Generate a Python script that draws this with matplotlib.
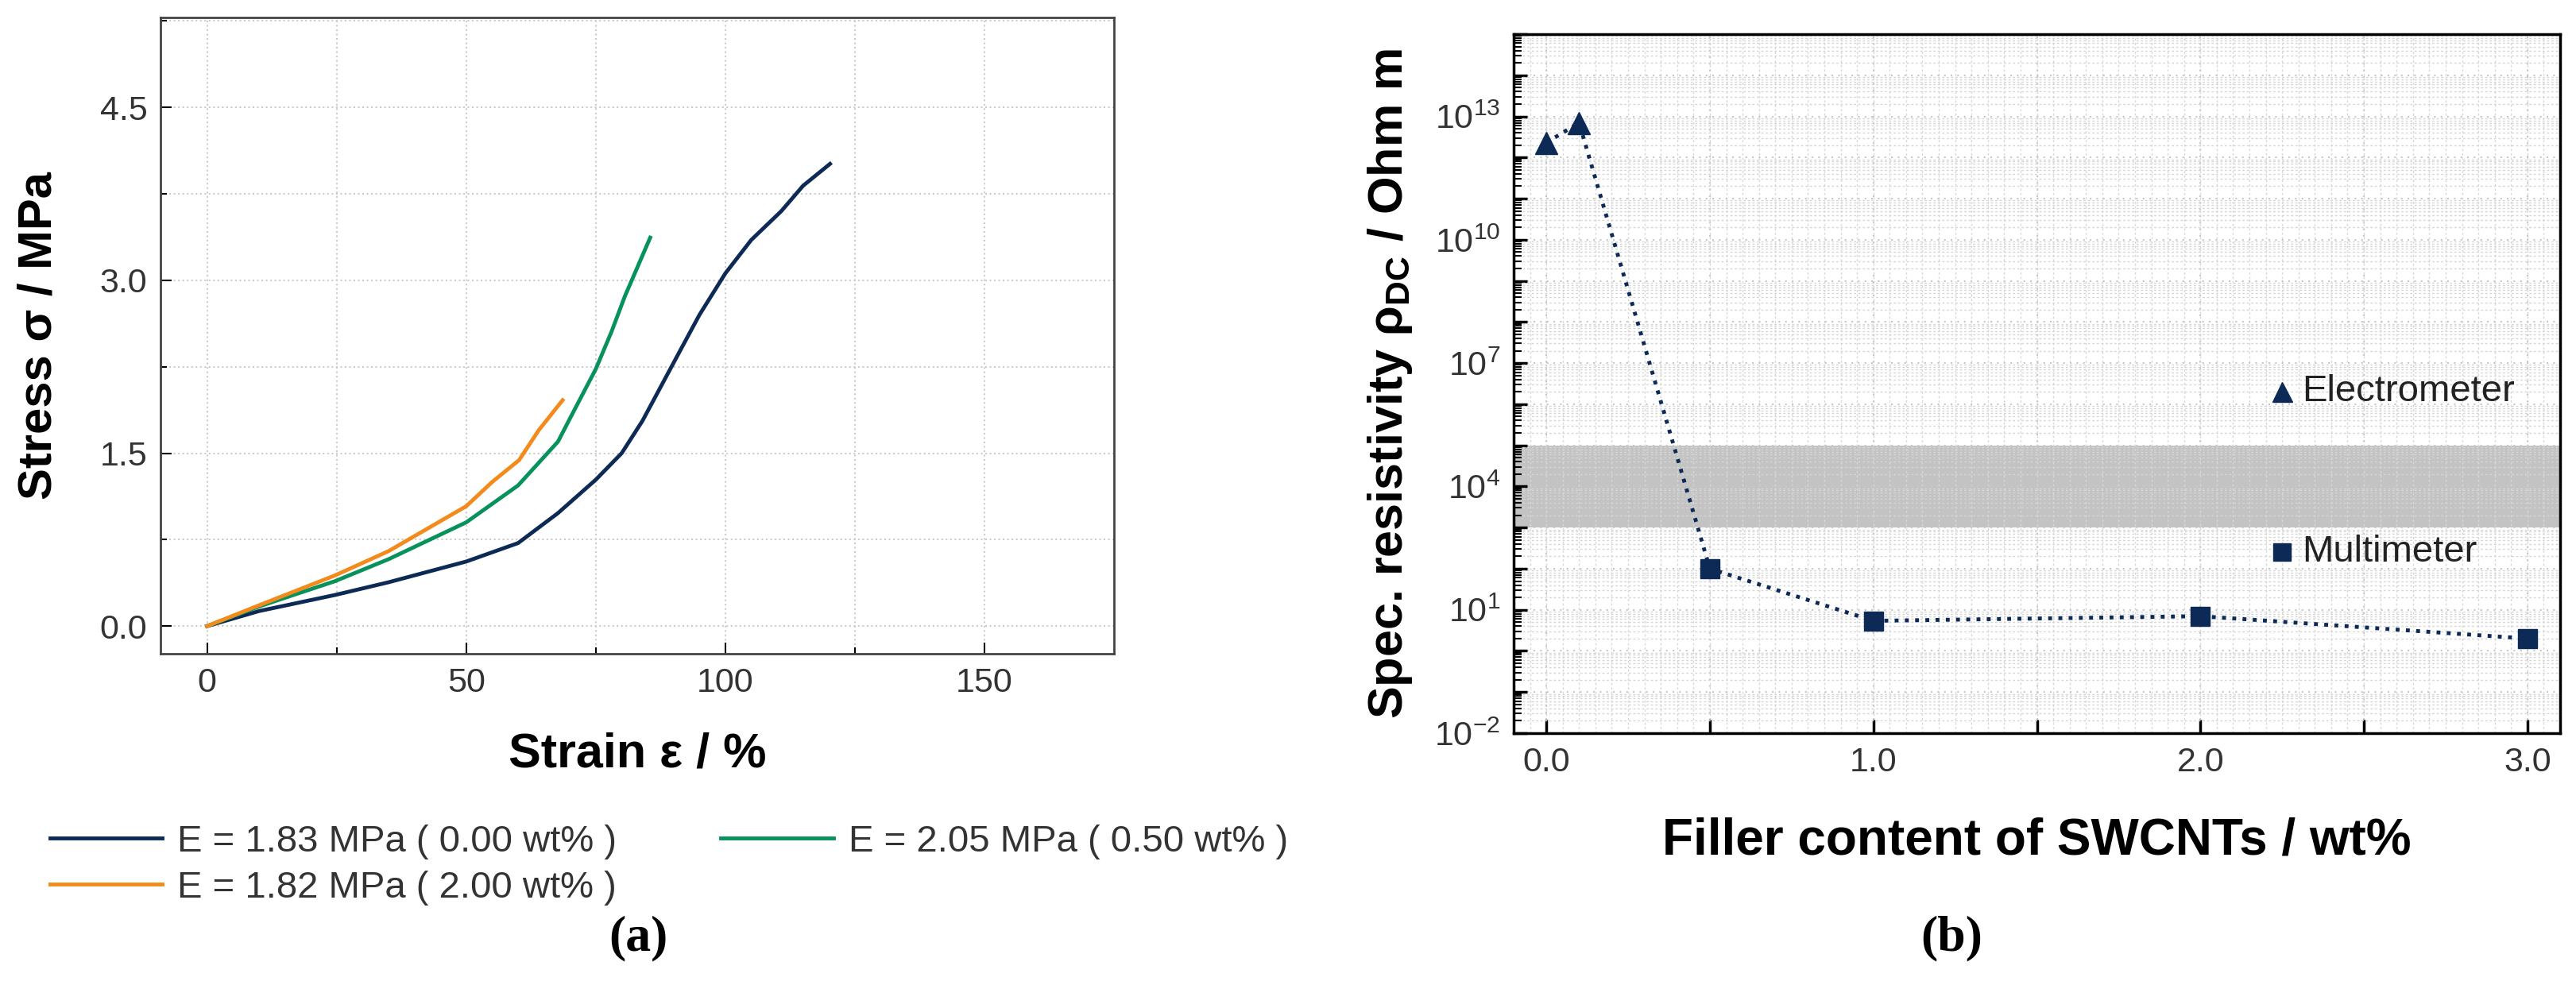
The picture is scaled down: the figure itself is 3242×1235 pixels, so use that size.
import numpy as np
import matplotlib
matplotlib.use("Agg")
import matplotlib.pyplot as plt
from matplotlib.ticker import MultipleLocator, LogLocator, FixedLocator, NullFormatter

plt.rcParams["font.family"] = ["Liberation Sans", "DejaVu Sans"]

# panel (a): stress-strain curves
strain_00 = [0, 10, 24.7, 35, 50, 60, 67.7, 75, 80, 84, 91.4, 95, 100, 105, 110.8, 115, 120.2]
stress_00 = [0, 0.13, 0.27, 0.38, 0.56, 0.72, 0.98, 1.27, 1.5, 1.78, 2.4, 2.7, 3.06, 3.35, 3.6, 3.82, 4.01]
strain_05 = [0, 10, 24.7, 35, 50, 60, 67.7, 70, 75, 78, 80.6, 85.5]
stress_05 = [0, 0.17, 0.39, 0.58, 0.9, 1.22, 1.6, 1.8, 2.23, 2.55, 2.86, 3.37]
strain_20 = [0, 10, 24.7, 35, 50, 55, 60.2, 64, 68.6]
stress_20 = [0, 0.18, 0.44, 0.65, 1.04, 1.25, 1.44, 1.7, 1.96]
labels_a = ["E = 1.83 MPa ( 0.00 wt% )", "E = 2.05 MPa ( 0.50 wt% )",
            "E = 1.82 MPa ( 2.00 wt% )"]

# panel (b): resistivity vs filler content
electro_x = [0.0, 0.1]
electro_y = [2.3e12, 7e12]
multi_x = [0.5, 1.0, 2.0, 3.0]
multi_y = [100, 5.4, 7.0, 2.0]
band_lo, band_hi = 1e3, 1e5

navy = "#0c2a55"
green = "#07925c"
orange = "#f28a1c"
tick_col = "#333333"

W, H = 3242, 1235
fig = plt.figure(figsize=(W / 100, H / 100), dpi=100)


def px_axes(l, r, t, b):
    return fig.add_axes([l / W, 1 - b / H, (r - l) / W, (b - t) / H])


# ---------- (a)
ax = px_axes(202, 1402, 22, 823)
ax.plot(strain_00, stress_00, color=navy, lw=3.5)
ax.plot(strain_05, stress_05, color=green, lw=3.5)
ax.plot(strain_20, stress_20, color=orange, lw=3.5)
ax.set_xlim(-9, 175)
ax.set_ylim(-0.24, 5.28)
ax.xaxis.set_major_locator(FixedLocator([0, 50, 100, 150]))
ax.xaxis.set_minor_locator(FixedLocator([25, 75, 125]))
ax.yaxis.set_major_locator(FixedLocator([0, 1.5, 3.0, 4.5]))
ax.yaxis.set_minor_locator(FixedLocator([0.75, 2.25, 3.75, 5.25]))
ax.set_yticklabels(["0.0", "1.5", "3.0", "4.5"])
ax.grid(which="both", color="#cccccc", ls=":", lw=1.5)
ax.tick_params(which="major", direction="in", length=10, width=1.5,
               labelsize=31, labelcolor=tick_col, pad=12)
ax.tick_params(which="minor", direction="in", length=6, width=1.5)
for s in ax.spines.values():
    s.set_color("#444444")
    s.set_linewidth(2)
ax.set_xlabel("Strain ε / %", fontsize=44, fontweight="bold", labelpad=30)
ax.set_ylabel("Stress σ / MPa", fontsize=43, fontweight="bold", labelpad=35)

fig.legend(handles=ax.lines[:1] + ax.lines[2:3], labels=[labels_a[0], labels_a[2]],
           loc="upper left", bbox_to_anchor=(20 / W, 1 - 995 / H), frameon=False,
           fontsize=34, handlelength=3.0, handletextpad=0.4, labelspacing=0.3,
           labelcolor=tick_col)
fig.legend(handles=ax.lines[1:2], labels=[labels_a[1]],
           loc="upper left", bbox_to_anchor=(865 / W, 1 - 995 / H), frameon=False,
           fontsize=34, handlelength=3.0, handletextpad=0.4, labelcolor=tick_col)
fig.text(803 / W, 1 - 1181 / H, "(a)", fontsize=46, fontweight="bold",
         family="Liberation Serif", ha="center", va="center")

# ---------- (b)
bx = px_axes(1905, 3222, 43, 923)
bx.set_yscale("log")
bx.axhspan(band_lo, band_hi, color="#b4b4b4", alpha=0.8, lw=0, zorder=0)
bx.plot(electro_x + multi_x, electro_y + multi_y, color=navy, ls=":", lw=3.5)
bx.plot(electro_x, electro_y, ls="none", marker="^", ms=20, color=navy)
bx.plot(multi_x, multi_y, ls="none", marker="s", ms=17, color=navy)
bx.set_xlim(-0.1, 3.1)
bx.set_ylim(1e-2, 1e15)
bx.xaxis.set_major_locator(FixedLocator([0, 1, 2, 3]))
bx.xaxis.set_minor_locator(FixedLocator([0.5, 1.5, 2.5]))
bx.set_xticklabels(["0.0", "1.0", "2.0", "3.0"])
bx.set_yticks([10.0 ** k for k in range(-2, 16)])
bx.set_yticklabels([f"$\\mathregular{{10^{{{k}}}}}$" if (k + 2) % 3 == 0 else ""
                    for k in range(-2, 16)])
bx.yaxis.set_minor_locator(LogLocator(base=10, subs=np.arange(2, 10), numticks=40))
bx.yaxis.set_minor_formatter(NullFormatter())
# dense vertical guide grid every 0.05
for xv in np.arange(-0.05, 3.1, 0.05):
    bx.axvline(xv, color="#d8d8d8", ls=(0, (2, 2)), lw=1, zorder=0.5)
bx.grid(axis="y", which="minor", color="#d6d6d6", ls=(0, (2, 2)), lw=1)
bx.grid(which="major", color="#c8c8c8", ls=(0, (1, 3)), lw=1.5)
for xv in [0.5, 1.5, 2.5]:
    bx.axvline(xv, color="#c8c8c8", ls=(0, (1, 3)), lw=1.5, zorder=0.5)
bx.tick_params(which="major", direction="in", length=12, width=2.5,
               labelsize=31, labelcolor=tick_col, pad=12)
bx.tick_params(axis="y", which="minor", direction="in", length=7, width=1.5)
bx.tick_params(axis="x", which="minor", direction="in", length=12, width=2.5)
for s in bx.spines.values():
    s.set_linewidth(2.5)
bx.set_xlabel("Filler content of SWCNTs / wt%", fontsize=46, fontweight="bold",
              labelpad=35)
bx.set_ylabel(r"Spec. resistivity $\mathregular{\rho_{DC}}$ / Ohm m", fontsize=44,
              fontweight="bold", labelpad=18)
bx.plot([2.25], [2e6], ls="none", marker="^", ms=18, color=navy)
bx.plot([2.25], [2.5e2], ls="none", marker="s", ms=16, color=navy)
bx.text(2.31, 2e6, "Electrometer", fontsize=34, va="center", color="#222222")
bx.text(2.31, 2.5e2, "Multimeter", fontsize=34, va="center", color="#222222")
fig.text(2456 / W, 1 - 1181 / H, "(b)", fontsize=46, fontweight="bold",
         family="Liberation Serif", ha="center", va="center")

fig.savefig("out.png", dpi=100)
